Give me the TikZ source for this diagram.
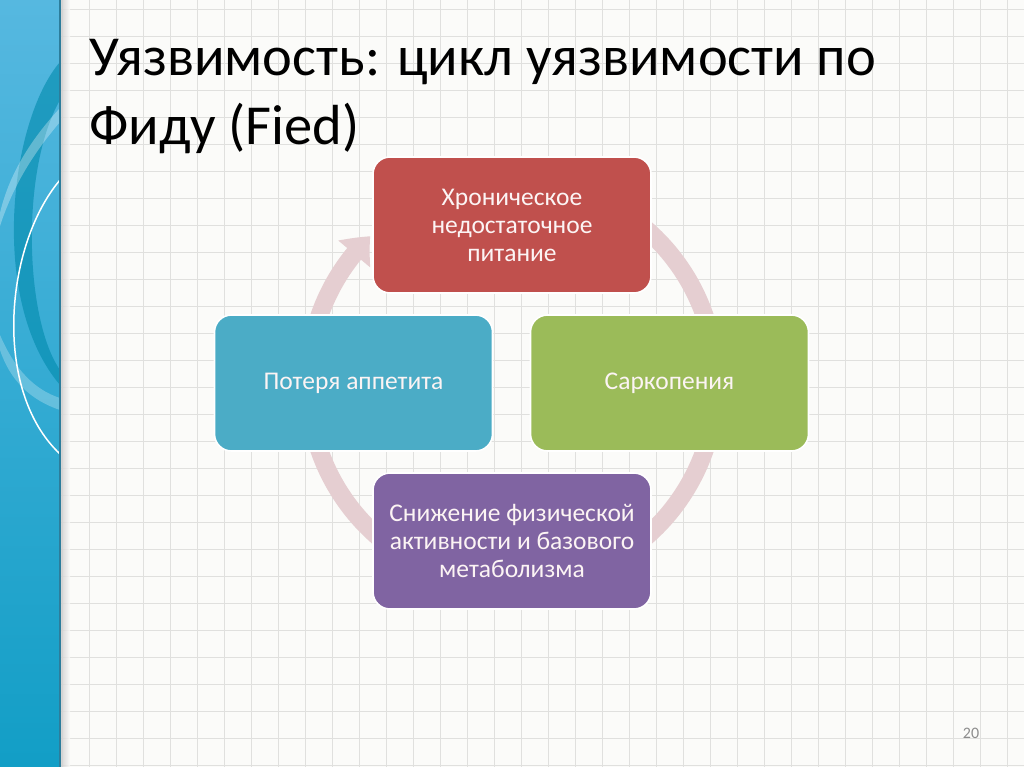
\documentclass[tikz,border=0pt]{standalone}
\usepackage{fontspec}
\setmainfont{Carlito}
\usetikzlibrary{arrows.meta,bending,calc}
\definecolor{paper}{RGB}{251,251,249}
\definecolor{gridc}{RGB}{224,224,222}
\definecolor{ringc}{RGB}{229,206,209}
\definecolor{redbox}{RGB}{192,80,77}
\definecolor{bluebox}{RGB}{75,172,198}
\definecolor{greenbox}{RGB}{155,187,89}
\definecolor{purplebox}{RGB}{128,100,162}
\definecolor{bandtop}{RGB}{86,184,224}
\definecolor{bandbot}{RGB}{18,158,198}
\definecolor{banddark}{RGB}{0,138,172}
\definecolor{bandedge}{RGB}{45,125,155}
\definecolor{boxtext}{RGB}{252,244,244}
\definecolor{numc}{RGB}{140,140,140}
\tikzset{
  gridline/.style={draw=gridc, line width=0.9pt},
  cyclebox/.style={rounded corners=17pt, draw=white, line width=1.6pt,
    minimum width=278pt, minimum height=136pt, align=center,
    text=boxtext, font=\fontsize{25.5}{28}\selectfont, inner sep=0pt},
  titletext/.style={anchor=base west, inner sep=0pt, font=\fontsize{56.5}{60}\selectfont, text=black},
}
\begin{document}
\begin{tikzpicture}[x=1pt,y=-1pt]
\useasboundingbox (0,0) rectangle (1024,767);
\fill[paper] (0,0) rectangle (1024,767);
% grid
\foreach \x in {62,89,...,1024} \draw[gridline] (\x,0) -- (\x,767);
\foreach \y in {9,36,...,767} \draw[gridline] (60,\y) -- (1024,\y);
% left decorative band
\shade[top color=bandtop, bottom color=bandbot] (0,0) rectangle (60,767);
\begin{scope}
  \clip (0,0) rectangle (60,767);
  \fill[banddark, opacity=0.6]
    (60,62) .. controls (10,120) and (-12,300) .. (60,385)
    -- (60,370) .. controls (25,320) and (20,170) .. (60,100) -- cycle;
  \fill[white, opacity=0.3]
    (60,108) .. controls (35,135) and (10,170) .. (0,213)
    -- (0,226) .. controls (15,180) and (38,148) .. (60,122) -- cycle;
  \fill[white, opacity=0.25]
    (0,335) .. controls (15,370) and (35,390) .. (60,398)
    -- (60,410) .. controls (30,400) and (10,380) .. (0,350) -- cycle;
  \draw[white, line width=1.5pt]
    (60,180) .. controls (5,245) and (-8,390) .. (60,454);
\end{scope}
\shade[left color=black!22, right color=paper, opacity=0.8] (60,0) rectangle (70,767);
\draw[bandedge, line width=1.4pt] (60,0) -- (60,767);
% title
\node[titletext] (t1) at (89,76) {Уязвимость: цикл уязвимости по};
\node[titletext] (t2) at (89,145) {Фиду (Fied)};
% cycle ring
\coordinate (c) at (512,383);
\draw[ringc, line width=18pt, -{Triangle[width=40pt,length=24pt,bend]}]
  ($(c)+(-100:204)$) arc[start angle=-100, end angle=226, radius=204];
% boxes
\node[cyclebox, fill=redbox] (top) at (512,225) {Хроническое\\недостаточное\\питание};
\node[cyclebox, fill=bluebox] (left) at (353.5,383) {Потеря аппетита};
\node[cyclebox, fill=greenbox] (right) at (669.5,383) {Саркопения};
\node[cyclebox, fill=purplebox] (bottom) at (512,541) {Снижение физической\\активности и базового\\метаболизма};
% page number
\node[text=numc, font=\fontsize{16}{18}\selectfont, inner sep=0pt] (num) at (971,733) {20};
\end{tikzpicture}
\end{document}
